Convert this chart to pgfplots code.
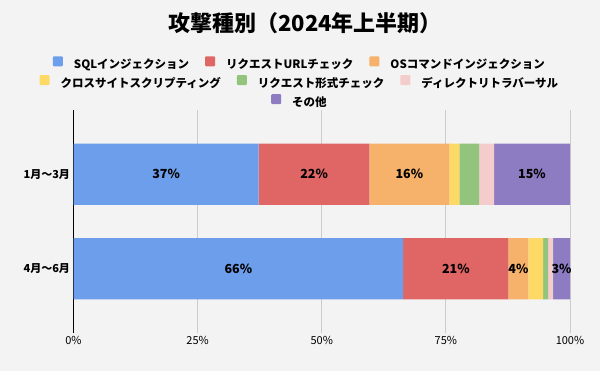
\documentclass[border=0pt]{standalone}
\usepackage{fontspec}
\setmainfont{Noto Sans CJK JP}
\usepackage{pgfplots}
\pgfplotsset{compat=1.18}
\definecolor{bg}{HTML}{F3F3F3}
\definecolor{cSQL}{HTML}{6D9EEB}
\definecolor{cURL}{HTML}{E06666}
\definecolor{cOS}{HTML}{F6B26B}
\definecolor{cXSS}{HTML}{FFD966}
\definecolor{cFmt}{HTML}{93C47D}
\definecolor{cDir}{HTML}{F4CCCC}
\definecolor{cOth}{HTML}{8E7CC3}
\definecolor{gridc}{HTML}{CCCCCC}
\pgfplotsset{
  sq/.style={legend image code/.code={\fill[#1,draw=none,rounded corners=1pt] (0pt,-2pt) rectangle (10pt,8pt); \path[draw=none,fill=none] (0pt,3pt) -- (19pt,3pt);}},
  commonax/.style={at={(73.5pt,38pt)}, anchor=south west, scale only axis, width=496.5pt, height=223pt},
  legrow/.style={hide axis, xmin=0, xmax=1, ymin=0, ymax=1,
    legend style={at={(#1)}, anchor=center, draw=none, fill=none,
      font=\bfseries\fontsize{11.5}{13}\selectfont, legend columns=-1,
      /tikz/every even column/.append style={column sep=14pt}},
    legend cell align=left},
  lab/.style={nodes near coords, point meta=explicit symbolic,
    every node near coord/.append style={anchor=center,
      font=\bfseries\fontsize{12.5}{14}\selectfont, text=black}},
}
\begin{document}
\begin{tikzpicture}
\fill[bg] (0pt,0pt) rectangle (600pt,371pt);
\node[font=\bfseries\fontsize{22}{25}\selectfont] at (305pt,348pt) {攻撃種別（2024年上半期）};
\begin{axis}[commonax,
  xbar stacked, bar width=0.65,
  xmin=0, xmax=100, ymin=-0.68, ymax=1.68, y dir=reverse,
  ytick={0,1}, yticklabels={1月～3月,4月～6月},
  yticklabel style={font=\bfseries\fontsize{11}{13}\selectfont},
  xtick={25,50,75,100}, xticklabels={25\%,50\%,75\%,100\%},
  extra x ticks={0}, extra x tick labels={0\%},
  extra x tick style={grid=major, major grid style={black, line width=0.8pt}},
  xmajorgrids, major grid style={gridc, line width=0.8pt},
  major tick length=0pt, axis line style={draw=none},
  xticklabel style={font=\fontsize{11}{13}\selectfont},
  clip=false,
]
\addplot[fill=cSQL, draw=none, lab] coordinates {(37.3,0) [37\%] (66.4,1) [66\%]};
\addplot[fill=cURL, draw=none, lab] coordinates {(22.3,0) [22\%] (21.2,1) [21\%]};
\addplot[fill=cOS, draw=none, lab] coordinates {(16.1,0) [16\%] (4.0,1) [4\%]};
\addplot[fill=cXSS, draw=none] coordinates {(2.0,0) (3.0,1)};
\addplot[fill=cFmt, draw=none] coordinates {(4.0,0) (1.0,1)};
\addplot[fill=cDir, draw=none] coordinates {(3.0,0) (1.0,1)};
\addplot[fill=cOth, draw=none, lab] coordinates {(15.3,0) [15\%] (3.4,1) [3\%]};
\end{axis}
\begin{axis}[commonax, legrow={0.456,1.206}]
\addlegendimage{sq=cSQL}\addlegendentry{SQLインジェクション}
\addlegendimage{sq=cURL}\addlegendentry{リクエストURLチェック}
\addlegendimage{sq=cOS}\addlegendentry{OSコマンドインジェクション}
\end{axis}
\begin{axis}[commonax, legrow={0.456,1.121}]
\addlegendimage{sq=cXSS}\addlegendentry{クロスサイトスクリプティング}
\addlegendimage{sq=cFmt}\addlegendentry{リクエスト形式チェック}
\addlegendimage{sq=cDir}\addlegendentry{ディレクトリトラバーサル}
\end{axis}
\begin{axis}[commonax, legrow={0.456,1.036}]
\addlegendimage{sq=cOth}\addlegendentry{その他}
\end{axis}
\pgfresetboundingbox
\useasboundingbox (0pt,0pt) rectangle (600pt,371pt);
\end{tikzpicture}
\end{document}
